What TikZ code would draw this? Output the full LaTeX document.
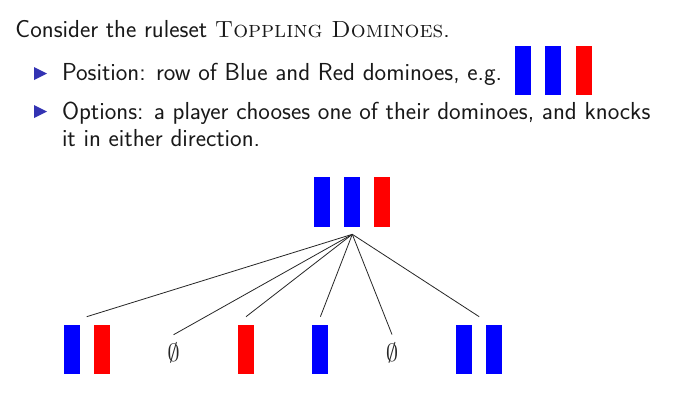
\documentclass[tikz,border=0pt]{standalone}
\definecolor{dblue}{RGB}{0,0,255}
\definecolor{dred}{RGB}{255,0,0}
\definecolor{bulletc}{RGB}{51,51,179}
\tikzset{
  dom/.style={draw=none, minimum width=16pt, minimum height=49.3pt, inner sep=0pt, outer sep=0pt},
  bdom/.style={dom, fill=dblue},
  rdom/.style={dom, fill=dred},
  txt/.style={anchor=base west, inner sep=0pt, outer sep=0pt, text=black!90, font=\sffamily\fontsize{24.6}{27.7}\selectfont},
  grp/.style={draw=none, inner sep=0pt, outer sep=0pt, minimum width=40pt},
  eset/.style={grp, font=\fontsize{25.5}{27.7}\selectfont, text=black!85},
  edge/.style={draw=black!85, line width=0.8pt},
  bul/.style={fill=bulletc},
}
\begin{document}
\begin{tikzpicture}[x=1pt, y=-1pt]
\useasboundingbox (0,0) rectangle (680,397);
\fill[white] (0,0) rectangle (680,397);
% text
\node[txt] (t0) at (15.5,37.5) {Consider the ruleset {\rmfamily\scshape\fontsize{23.4}{27.7}\selectfont Toppling Dominoes}.};
\fill[bul] (34,67) -- (34,80) -- (47,73.5) -- cycle;
\node[txt] (t1) at (62,80.7) {Position: row of Blue and Red dominoes, e.g.};
\node[bdom] (e1) at (523,70.3) {};
\node[bdom] (e2) at (553.3,70.3) {};
\node[rdom] (e3) at (583.5,70.3) {};
\fill[bul] (34,105) -- (34,118) -- (47,111.5) -- cycle;
\node[txt] (t2) at (62,119) {Options: a player chooses one of their dominoes, and knocks};
\node[txt] (t3) at (62,146.7) {it in either direction.};
% root
\node[grp, minimum width=76pt, minimum height=64.4pt] (root) at (352.3,202.1) {};
\node[bdom] (r1) at (322,202) {};
\node[bdom] (r2) at (352.3,202) {};
\node[rdom] (r3) at (382,202) {};
% children
\node[grp, minimum height=65.6pt] (c1) at (86.7,349.5) {};
\node[bdom] (c1a) at (71.5,349.5) {};
\node[rdom] (c1b) at (101.8,349.5) {};
\node[eset, minimum height=37pt] (c2) at (173.6,353.2) {$\emptyset$};
\node[grp, minimum height=65.6pt] (c3) at (246,349.5) {};
\node[rdom] (c3a) at (246,349.5) {};
\node[grp, minimum height=65.6pt] (c4) at (320.4,349.5) {};
\node[bdom] (c4a) at (320.2,349.5) {};
\node[eset, minimum height=37pt] (c5) at (392,353) {$\emptyset$};
\node[grp, minimum height=65.6pt] (c6) at (479.2,349.5) {};
\node[bdom] (c6a) at (464,349.5) {};
\node[bdom] (c6b) at (494.2,349.5) {};
% edges
\foreach \c in {c1,c2,c3,c4,c5,c6}
  \draw[edge] (root.south) -- (\c.north);
\end{tikzpicture}
\end{document}
